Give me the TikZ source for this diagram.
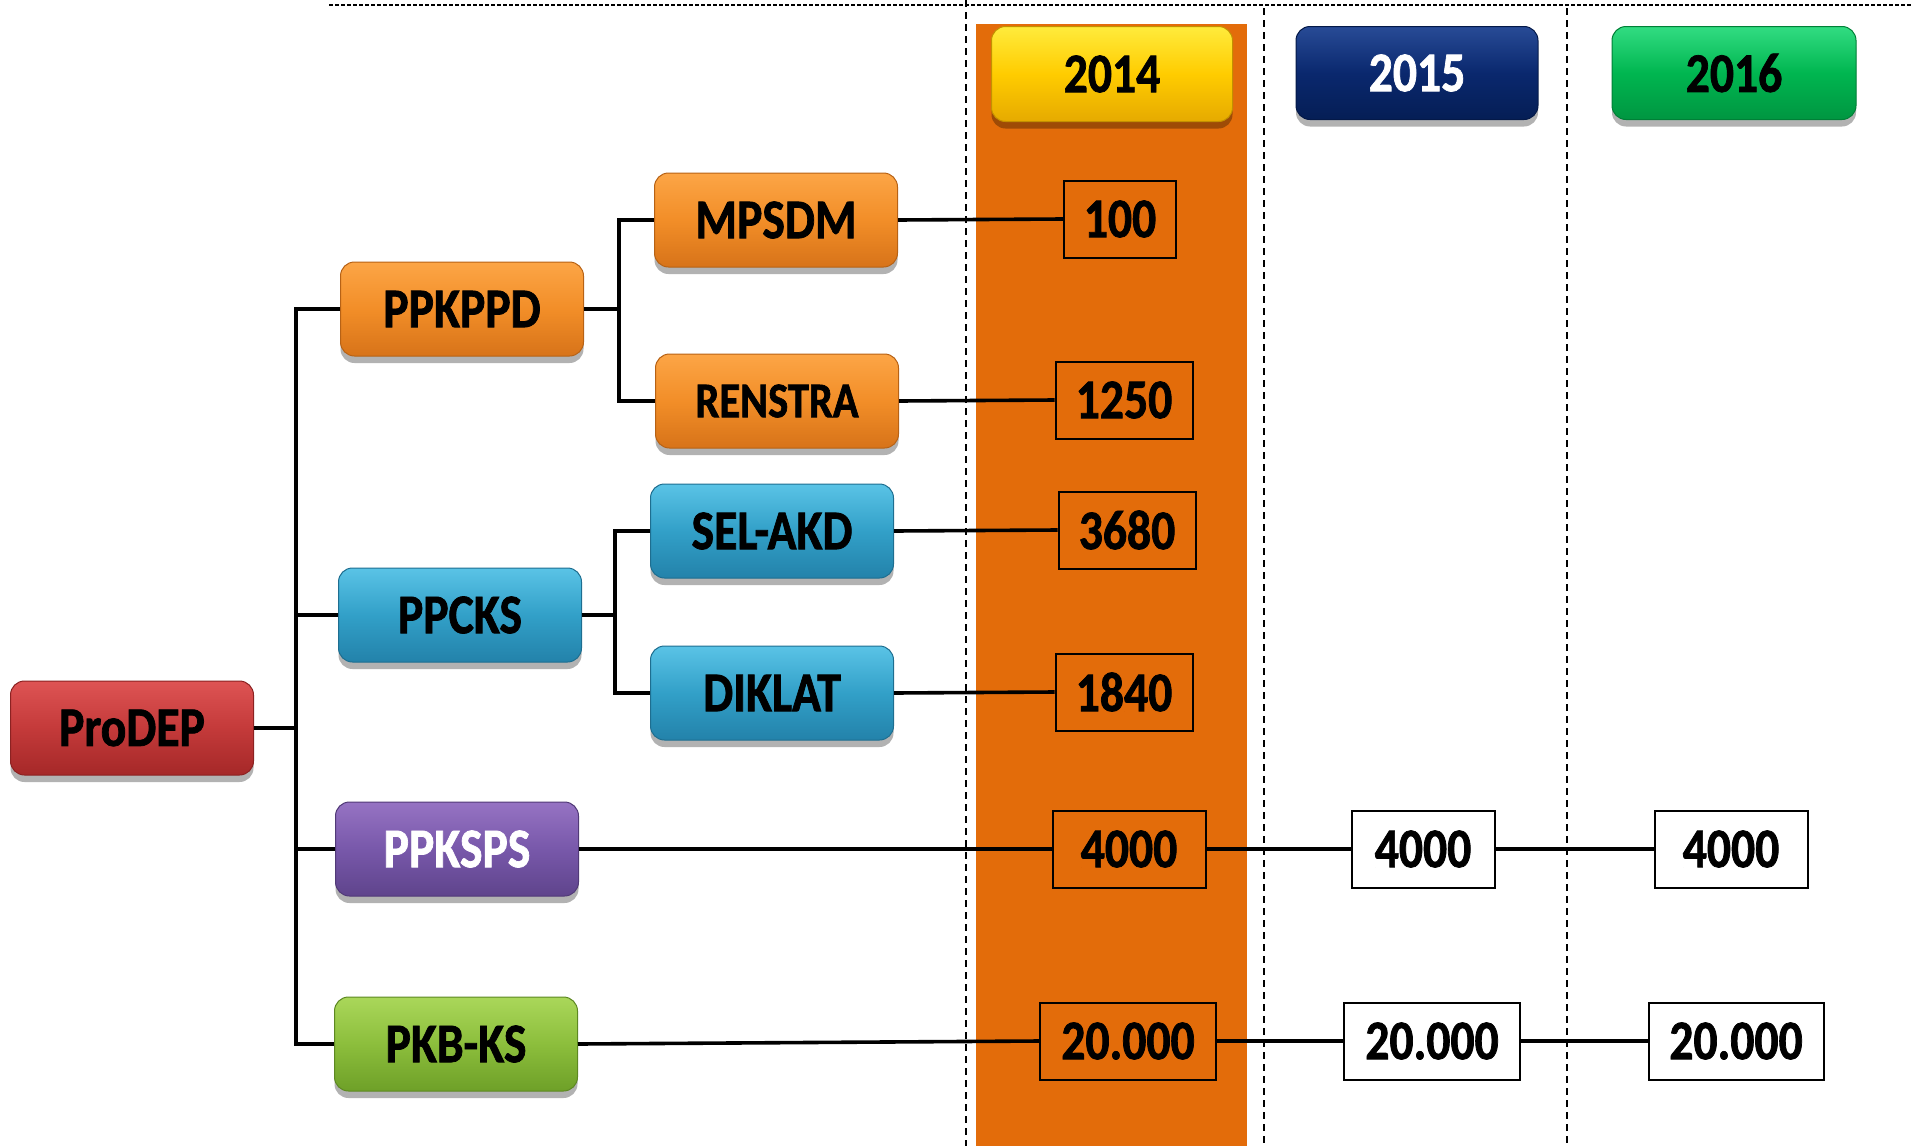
\documentclass[tikz,border=0pt]{standalone}
\usepackage{fontspec}
\setmainfont{Carlito}[FakeStretch=0.85, BoldFeatures={FakeBold=1.3}]
\usetikzlibrary{shadows}
\definecolor{colorange}{RGB}{227,108,10}
\definecolor{redA}{RGB}{222,84,84}\definecolor{redB}{RGB}{196,58,58}\definecolor{redC}{RGB}{165,40,40}
\definecolor{orA}{RGB}{252,165,70}\definecolor{orB}{RGB}{242,142,40}\definecolor{orC}{RGB}{215,115,25}
\definecolor{cyA}{RGB}{90,195,230}\definecolor{cyB}{RGB}{50,160,200}\definecolor{cyC}{RGB}{35,130,170}
\definecolor{puA}{RGB}{150,115,195}\definecolor{puB}{RGB}{120,88,170}\definecolor{puC}{RGB}{95,68,140}
\definecolor{grA}{RGB}{170,215,90}\definecolor{grB}{RGB}{140,190,60}\definecolor{grC}{RGB}{110,160,40}
\definecolor{yeA}{RGB}{255,235,60}\definecolor{yeB}{RGB}{255,204,0}\definecolor{yeC}{RGB}{230,170,0}
\definecolor{nvA}{RGB}{40,75,150}\definecolor{nvB}{RGB}{10,40,110}\definecolor{nvC}{RGB}{5,30,85}
\definecolor{gnA}{RGB}{50,220,130}\definecolor{gnB}{RGB}{0,182,80}\definecolor{gnC}{RGB}{0,150,65}
\tikzset{
  box/.style={rounded corners=14pt, minimum width=243pt, minimum height=94pt,
    font=\fontsize{56}{60}\selectfont\bfseries, inner sep=0pt,
    drop shadow={shadow xshift=0pt, shadow yshift=-7pt, opacity=0.3, fill=black}},
  gl/.style args={#1/#2/#3}{top color=#1, bottom color=#3, middle color=#2, draw=#3!85!black, line width=1pt},
  val/.style={draw=black, line width=2pt, minimum height=77pt, inner sep=0pt,
    font=\fontsize{56}{60}\selectfont\bfseries},
  wval/.style={val, fill=white},
  conn/.style={line width=3.6pt, black},
  vdash/.style={line width=1.4pt, dash pattern=on 7pt off 5pt},
}
\begin{document}
\begin{tikzpicture}[x=1pt,y=-1pt]
\useasboundingbox (0,0) rectangle (1911,1146);
% orange column
\fill[colorange] (976,24) rectangle (1247,1146);
% dashed lines
\draw[line width=2.6pt, dash pattern=on 4pt off 2pt] (329,5) -- (1911,5);
\draw[vdash] (966,0) -- (966,1146);
\draw[vdash] (1264,8) -- (1264,1146);
\draw[vdash] (1567,8) -- (1567,1146);
% year boxes
\node[box, gl=yeA/yeB/yeC, minimum width=241pt, minimum height=95pt] (y14) at (1112,74) {2014};
\node[box, gl=nvA/nvB/nvC, minimum width=242pt, minimum height=93pt, text=white] (y15) at (1417,73) {2015};
\node[box, gl=gnA/gnB/gnC, minimum width=244pt, minimum height=93pt] (y16) at (1734,73) {2016};
% tree boxes
\node[box, gl=redA/redB/redC] (prodep) at (132,728) {ProDEP};
\node[box, gl=orA/orB/orC] (ppkppd) at (462,309) {PPKPPD};
\node[box, gl=cyA/cyB/cyC] (ppcks) at (460,615) {PPCKS};
\node[box, gl=puA/puB/puC, text=white] (ppksps) at (457,849) {PPKSPS};
\node[box, gl=grA/grB/grC] (pkbks) at (456,1044) {PKB-KS};
\node[box, gl=orA/orB/orC] (mpsdm) at (776,220) {MPSDM};
\node[box, gl=orA/orB/orC, font=\fontsize{50}{54}\selectfont\bfseries] (renstra) at (777,401) {RENSTRA};
\node[box, gl=cyA/cyB/cyC] (selakd) at (772,531) {SEL-AKD};
\node[box, gl=cyA/cyB/cyC] (diklat) at (772,693) {DIKLAT};
% values
\node[val, minimum width=112pt] (v100) at (1120,219) {100};
\node[val, minimum width=137pt] (v1250) at (1124,400) {1250};
\node[val, minimum width=137pt] (v3680) at (1127,530) {3680};
\node[val, minimum width=137pt] (v1840) at (1124,692) {1840};
\node[val, minimum width=153pt] (a14) at (1129,849) {4000};
\node[wval, minimum width=143pt] (a15) at (1423,849) {4000};
\node[wval, minimum width=153pt] (a16) at (1731,849) {4000};
\node[val, minimum width=176pt] (b14) at (1128,1041) {20.000};
\node[wval, minimum width=176pt] (b15) at (1432,1041) {20.000};
\node[wval, minimum width=175pt] (b16) at (1736,1041) {20.000};
% connectors
\coordinate (t) at (296,728);
\coordinate (t1) at (619,309);
\coordinate (t2) at (615,615);
\draw[conn] (prodep.east) -- (t);
\draw[conn] (ppkppd.west) -- (ppkppd.west -| t) -- (pkbks.west -| t) -- (pkbks.west);
\draw[conn] (ppcks.west) -- (ppcks.west -| t);
\draw[conn] (ppksps.west) -- (ppksps.west -| t);
\draw[conn] (ppkppd.east) -- (t1);
\draw[conn] (mpsdm.west) -- (mpsdm.west -| t1) -- (renstra.west -| t1) -- (renstra.west);
\draw[conn] (ppcks.east) -- (t2);
\draw[conn] (selakd.west) -- (selakd.west -| t2) -- (diklat.west -| t2) -- (diklat.west);
\draw[conn] (mpsdm.east) -- (v100.west);
\draw[conn] (renstra.east) -- (v1250.west);
\draw[conn] (selakd.east) -- (v3680.west);
\draw[conn] (diklat.east) -- (v1840.west);
\draw[conn] (ppksps.east) -- (a14.west);
\draw[conn] (a14.east) -- (a15.west);
\draw[conn] (a15.east) -- (a16.west);
\draw[conn] (pkbks.east) -- (b14.west);
\draw[conn] (b14.east) -- (b15.west);
\draw[conn] (b15.east) -- (b16.west);
\end{tikzpicture}
\end{document}
